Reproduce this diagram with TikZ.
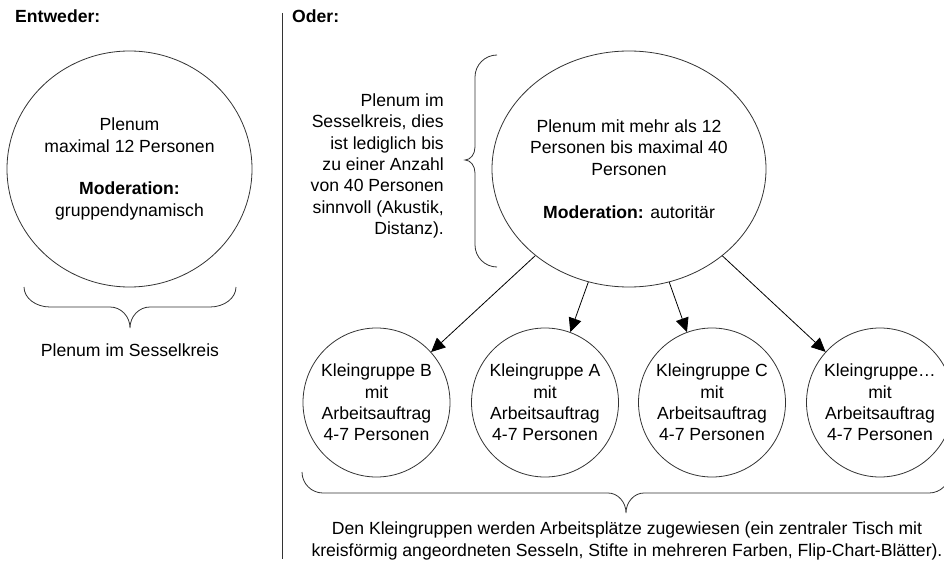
\documentclass[tikz,border=0pt]{standalone}
\usepackage{fontspec}
\setmainfont{Liberation Sans}
\usetikzlibrary{shapes.geometric,arrows.meta}
\begin{document}
\begin{tikzpicture}[x=1pt,y=-1pt,
  outline/.style={draw=black!80, line width=0.8pt},
  bubble/.style={ellipse, outline, inner sep=0pt},
  bigbubble/.style={bubble, minimum width=274pt, minimum height=236pt},
  smallbubble/.style={bubble, minimum width=147pt, minimum height=149pt},
  txt/.style={font=\fontsize{17.6}{21.4}\selectfont, inner sep=0pt, align=center},
  flow/.style={draw=black, line width=0.8pt, -{Triangle[length=14pt,width=13pt]}},
  brace/.style={draw=black!80, line width=0.8pt},
]
\useasboundingbox (0,0) rectangle (944,564);
\clip (0,0) rectangle (944,564);

% headings
\node[txt, anchor=base west] (entweder) at (15,23) {\bfseries Entweder:};
\node[txt, anchor=base west] (oder) at (292,23) {\bfseries Oder:};

% divider between the two variants
\coordinate (divtop) at (282,13);
\coordinate (divbot) at (282,559);
\draw[outline] (divtop) -- (divbot);

% left variant: small plenum
\node[bubble, minimum width=245pt, minimum height=236pt] (plenumA) at (129.5,169) {};
\node[txt] (plenumAtext) at (plenumA.center)
  {Plenum\\maximal 12 Personen\\[21.4pt]\textbf{Moderation:}\\gruppendynamisch};
\draw[brace] (24,287) .. controls (24,298) and (35.6,307) .. (50,307)
  -- (110,307) .. controls (121,307) and (130,316.4) .. (130,328)
  .. controls (130,316.4) and (139,307) .. (150,307)
  -- (210,307) .. controls (224.4,307) and (236,298) .. (236,287);
\node[txt, anchor=base] (sessel) at (130,356) {Plenum im Sesselkreis};

% right variant: large plenum
\node[bigbubble] (plenumB) at (629,169) {};
\node[txt] (plenumBtext) at (plenumB.center)
  {Plenum mit mehr als 12\\Personen bis maximal 40\\Personen\\[21.4pt]\textbf{Moderation:} autoritär};
\draw[brace] (497,55) .. controls (484.9,55) and (475,64.9) .. (475,77)
  -- (475,147) .. controls (475,154.2) and (470.5,160) .. (465,160)
  .. controls (470.5,160) and (475,165.8) .. (475,173)
  -- (475,245) .. controls (475,257.1) and (484.9,267) .. (497,267);
\node[txt, align=right, anchor=east] (sesselnote) at (444,166)
  {Plenum im\\Sesselkreis, dies\\ist lediglich bis\\zu einer Anzahl\\von 40 Personen\\sinnvoll (Akustik,\\Distanz).};

% small groups
\node[smallbubble] (gB) at (376.5,402.5) {};
\node[smallbubble] (gA) at (545,402.5) {};
\node[smallbubble] (gC) at (712,402.5) {};
\node[smallbubble] (gX) at (880,402.5) {};
\node[txt] (gBtext) at (gB.center) {Kleingruppe B\\mit\\Arbeitsauftrag\\4-7 Personen};
\node[txt] (gAtext) at (gA.center) {Kleingruppe A\\mit\\Arbeitsauftrag\\4-7 Personen};
\node[txt] (gCtext) at (gC.center) {Kleingruppe C\\mit\\Arbeitsauftrag\\4-7 Personen};
\node[txt] (gXtext) at (gX.center) {Kleingruppe…\\mit\\Arbeitsauftrag\\4-7 Personen};

\draw[flow] (plenumB) -- (gB);
\draw[flow] (plenumB) -- (gA);
\draw[flow] (plenumB) -- (gC);
\draw[flow] (plenumB) -- (gX);

\draw[brace] (302,472) .. controls (302,483.6) and (311.4,493) .. (323,493)
  -- (608,493) .. controls (617.9,493) and (626,502) .. (626,513)
  .. controls (626,502) and (634.1,493) .. (644,493)
  -- (929,493) .. controls (940.6,493) and (950,483.6) .. (950,472);
\node[txt] (worknote) at (627,541)
  {Den Kleingruppen werden Arbeitsplätze zugewiesen (ein zentraler Tisch mit\\kreisförmig angeordneten Sesseln, Stifte in mehreren Farben, Flip-Chart-Blätter).};
\end{tikzpicture}
\end{document}
